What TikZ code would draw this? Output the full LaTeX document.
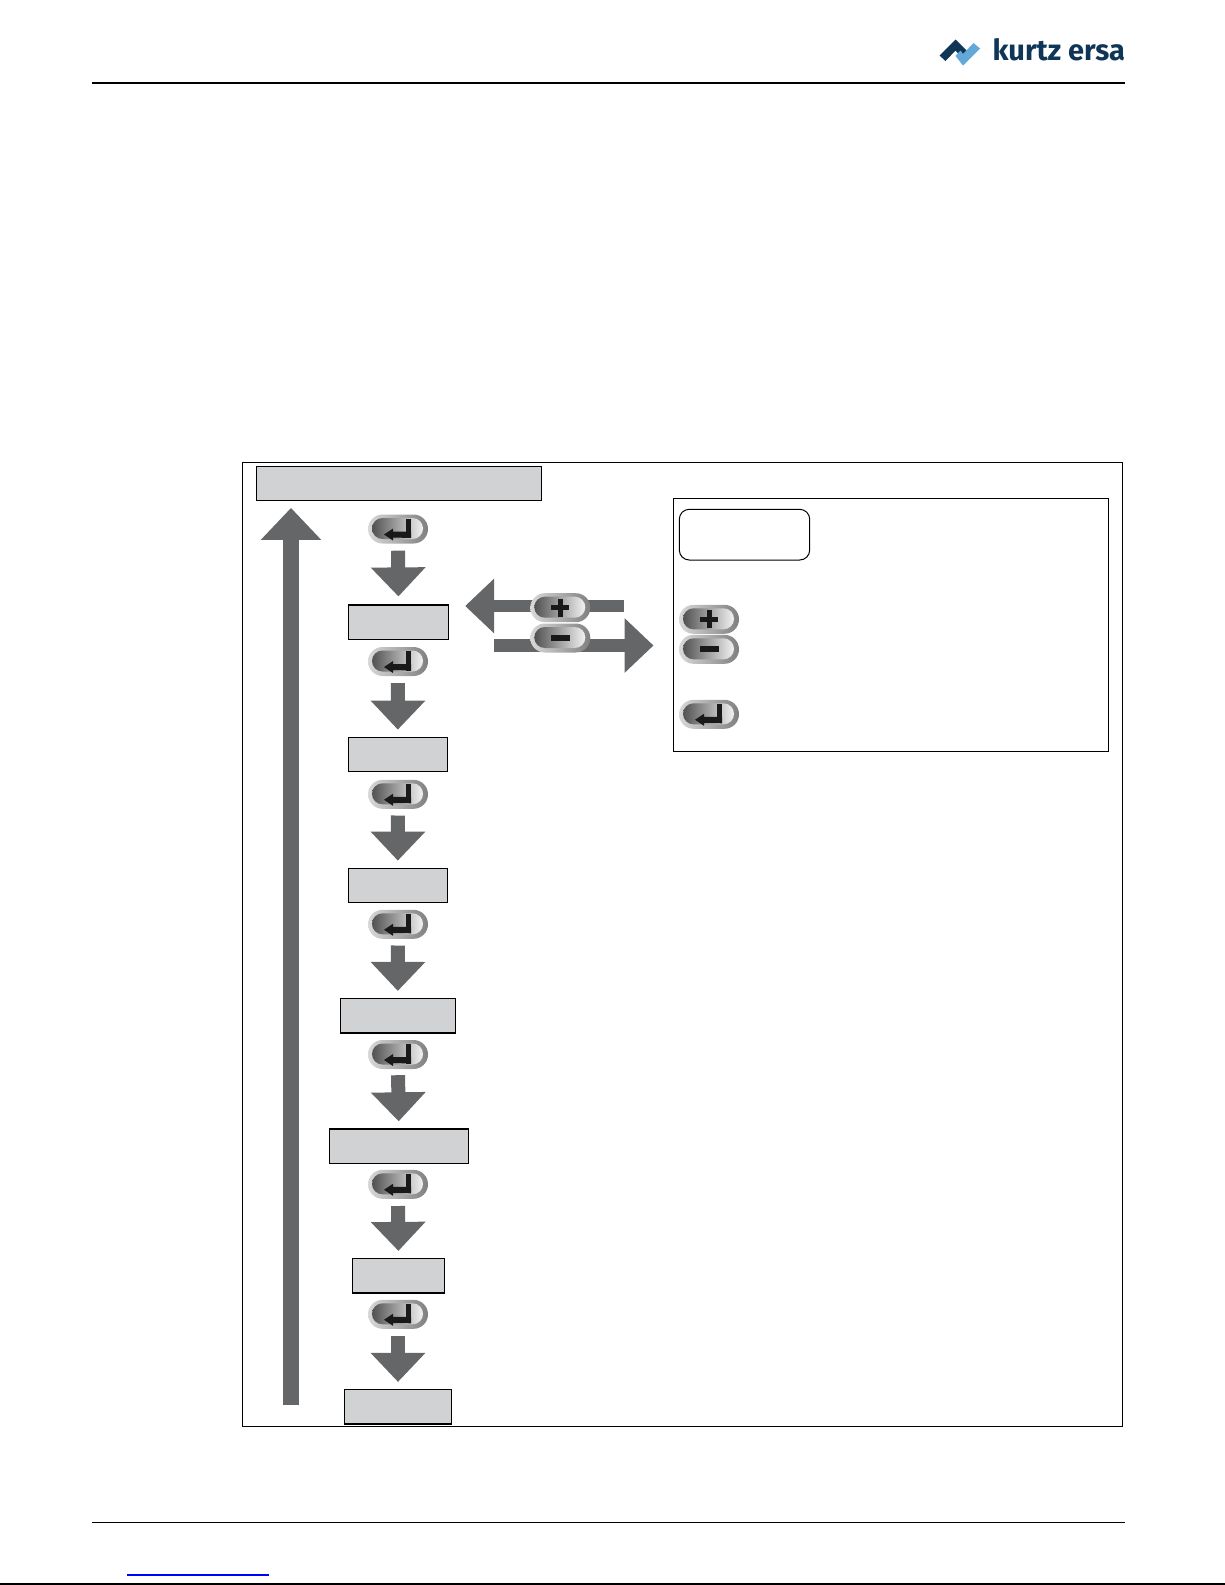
\documentclass[tikz,border=0pt]{standalone}
\usepackage{fontspec}
\newfontfamily\logofont{Fira Sans}
\usetikzlibrary{arrows.meta}

\definecolor{arrowgrey}{HTML}{656667}
\definecolor{boxgrey}{HTML}{D0D2D3}
\definecolor{logodark}{HTML}{0F3557}
\definecolor{logolight}{HTML}{62A8D8}

\def\symenter{
\fill[black!90] (7.5,-10.5) rectangle (13,9);
\fill[black!90] (13,2.5) -- (13,9) -- (-5,8.5) -- (-5,11.5) -- (-14,5.5) -- (-5,-0.5) -- (-5,2.5) -- cycle;
}
\def\symplus{
\fill[black!90] (-9,-2.5) rectangle (9,2.5);
\fill[black!90] (-2.5,-9) rectangle (2.5,9);
}
\def\symminus{
\fill[black!90] (-9.5,-3) rectangle (9.5,3);
}

\tikzset{
  menubox/.style={draw,fill=boxgrey,line width=1.3pt,minimum height=34.5pt,inner sep=0pt},
  keybtn/.style={rectangle,rounded corners=14.5pt,minimum width=60pt,minimum height=29pt,inner sep=0pt,
    left color=black!15,right color=black!50,
    path picture={
      \begin{scope}[shift={(path picture bounding box.center)}]
      \shade[rounded corners=10.5pt,left color=black!68,middle color=black!30,right color=black!5] (-26,-11) rectangle (25,10);
      \begin{scope}[sharp corners]
      #1
      \end{scope}
      \end{scope}
    }},
  flowarrow/.style={arrowgrey,line width=14pt,-{Triangle[length=29pt,width=53pt]}},
  sidearrow/.style={arrowgrey,line width=12.7pt,-{Triangle[length=29pt,width=53pt]}}
}

\begin{document}
\begin{tikzpicture}[x=1pt,y=-1pt]
\useasboundingbox (0,0) rectangle (1225,1585);

% page header and footer
\fill[logodark] (939.5,55.5) -- (955.5,39.5) -- (968.5,52.5) -- (962.5,58.5) -- (955.5,50.5) -- (945.5,61) -- cycle;
\fill[logolight] (955.5,56) -- (960.5,50.5) -- (963,54) -- (973.5,43) -- (980,48.5) -- (963,65.5) -- cycle;
\node[anchor=base west,inner sep=0pt,text=logodark] (logotext) at (992.5,60.7) {\fontsize{29}{29}\logofont\bfseries kurtz ersa};
\draw[line width=2pt] (92,82.7) -- (1125,82.7);
\draw[line width=1pt] (92,1522) -- (1125,1522);
\draw[blue,line width=1.2pt] (127,1575) -- (269,1575);
\draw[line width=1.2pt] (0,1584) -- (1225,1584);

% frames
\draw[line width=1pt] (242,462.5) rectangle (1122.3,1426);
\draw[line width=1pt] (673.3,498.3) rectangle (1108.3,751.3);
\draw[line width=1pt,rounded corners=10pt] (679.3,509.3) rectangle (809.7,560);

% menu boxes
\node[menubox,minimum width=285.5pt] (title) at (399,483.5) {};
\node[menubox,minimum width=100pt] (boxa) at (398.5,622.3) {};
\node[menubox,minimum width=99pt] (boxb) at (397.8,754.5) {};
\node[menubox,minimum width=99pt] (boxc) at (397.8,885.5) {};
\node[menubox,minimum width=115pt] (boxd) at (397.8,1015.8) {};
\node[menubox,minimum width=139pt] (boxe) at (398.8,1146.2) {};
\node[menubox,minimum width=92.5pt] (boxf) at (398.5,1275.8) {};
\node[menubox,minimum width=107.5pt] (boxg) at (398,1406.8) {};

% enter keys
\node[keybtn=\symenter] (entera) at (398,529) {};
\node[keybtn=\symenter] (enterb) at (398,661.5) {};
\node[keybtn=\symenter] (enterc) at (398,794.3) {};
\node[keybtn=\symenter] (enterd) at (398,924.3) {};
\node[keybtn=\symenter] (entere) at (398,1054.5) {};
\node[keybtn=\symenter] (enterf) at (398,1184.3) {};
\node[keybtn=\symenter] (enterg) at (398,1314.3) {};

% down arrows
\draw[flowarrow,shorten <=7pt,shorten >=8pt] (entera.south) -- (boxa.north);
\draw[flowarrow,shorten <=7pt,shorten >=7pt] (enterb.south) -- (boxb.north);
\draw[flowarrow,shorten <=6.5pt,shorten >=7pt] (enterc.south) -- (boxc.north);
\draw[flowarrow,shorten <=6.5pt,shorten >=7pt] (enterd.south) -- (boxd.north);
\draw[flowarrow,shorten <=6pt,shorten >=7pt] (entere.south) -- (boxe.north);
\draw[flowarrow,shorten <=7pt,shorten >=7pt] (enterf.south) -- (boxf.north);
\draw[flowarrow,shorten <=7pt,shorten >=7pt] (enterg.south) -- (boxg.north);

% return arrow
\coordinate (loopstart) at (291,1405);
\draw[arrowgrey,line width=15.7pt,-{Triangle[length=32pt,width=58.5pt]},shorten >=6.5pt] (loopstart) -- (title.south -| loopstart);

% plus and minus arrows
\coordinate (plusstart) at (624,606);
\coordinate (minusstart) at (494,645.5);
\coordinate (minustip) at (653.5,645.5);
\draw[sidearrow,shorten >=16pt] (plusstart) -- (boxa.east |- plusstart);
\draw[sidearrow] (minusstart) -- (minustip);
\node[keybtn=\symplus] (plus) at (560.3,607.7) {};
\node[keybtn=\symminus] (minus) at (560.3,638) {};

% legend keys
\node[keybtn=\symplus] (legplus) at (709,619.3) {};
\node[keybtn=\symminus] (legminus) at (709,649.3) {};
\node[keybtn=\symenter] (legenter) at (709,714.3) {};
\end{tikzpicture}
\end{document}
